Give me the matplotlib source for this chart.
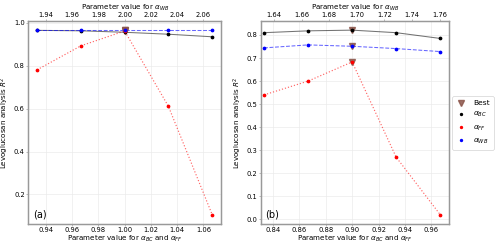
import numpy as np
import matplotlib
matplotlib.use('Agg')
import matplotlib.pyplot as plt
from matplotlib.lines import Line2D

# panel (a)
xa = [0.9333, 0.9667, 1.0, 1.0333, 1.0667]
xa_wb = [1.9333, 1.9667, 2.0, 2.0333, 2.0667]
bc_a = [0.965, 0.963, 0.956, 0.947, 0.935]
ff_a = [0.781, 0.893, 0.962, 0.611, 0.105]
wb_a = [0.966, 0.966, 0.966, 0.966, 0.966]
best_a_x = 1.0
best_a = [0.965, 0.962, 0.966]

# panel (b)
xb = [0.8333, 0.8667, 0.9, 0.9333, 0.9667]
xb_wb = [1.6333, 1.6667, 1.7, 1.7333, 1.7667]
bc_b = [0.810, 0.818, 0.821, 0.810, 0.785]
ff_b = [0.540, 0.600, 0.683, 0.270, 0.020]
wb_b = [0.744, 0.757, 0.751, 0.741, 0.728]
best_b_x = 0.9
best_b = [0.821, 0.683, 0.751]

ticks_a = [0.94, 0.96, 0.98, 1.00, 1.02, 1.04, 1.06]
ticks_a_top = [1.94, 1.96, 1.98, 2.00, 2.02, 2.04, 2.06]
ticks_b = [0.84, 0.86, 0.88, 0.90, 0.92, 0.94, 0.96]
ticks_b_top = [1.64, 1.66, 1.68, 1.70, 1.72, 1.74, 1.76]

fs = 4.9
lfs = 5.1
plt.rcParams['font.family'] = 'DejaVu Sans'
plt.rcParams['mathtext.fontset'] = 'dejavusans'

fig = plt.figure(figsize=(5, 2.46), dpi=100)
ax1 = fig.add_axes([0.0566, 0.0894, 0.3854, 0.8256])
ax2 = fig.add_axes([0.5214, 0.0894, 0.3766, 0.8256])

best_col = '#8c564b'


def draw(ax, x, bc, ff, wb, bx, best, ticks, tticks, tlim, label):
    ax.plot(x, bc, '-', color='black', alpha=0.55, lw=0.75, zorder=2)
    ax.plot(x, ff, ':', color='red', alpha=0.6, lw=0.85, zorder=2)
    ax.plot(x, wb, '--', color='blue', alpha=0.6, lw=0.75, zorder=2)
    ax.plot(x, bc, 'o', color='black', ms=1.7, zorder=3)
    ax.plot(x, ff, 'o', color='red', ms=1.7, zorder=3)
    ax.plot(x, wb, 'o', color='blue', ms=1.7, zorder=3)
    ax.plot([bx] * len(best), best, 'v', color=best_col, alpha=0.85, ms=4.2, zorder=2.5)
    ax.set_xticks(ticks)
    ax.set_xticklabels(['%.2f' % t for t in ticks])
    ax.grid(True, color='#ebebeb', lw=0.5)
    ax.set_axisbelow(True)
    ax.tick_params(labelsize=fs, length=1.5, width=0.4, color='#888888', pad=1.0)
    ax.set_xlabel(r'Parameter value for $\alpha_{BC}$ and $\alpha_{FF}$', fontsize=lfs, labelpad=0.2)
    ax.set_ylabel(r'Levoglucosan analysis $R^2$', fontsize=lfs, labelpad=2)
    for s in ax.spines.values():
        s.set_color('#999999')
        s.set_linewidth(0.9)
    ax.text(0.025, 0.022, label, transform=ax.transAxes, fontsize=7.0, ha='left', va='bottom')
    top = ax.twiny()
    if tlim is None:
        lo, hi = ax.get_xlim()
        top.set_xlim(lo + 1.0, hi + 1.0)
    else:
        top.set_xlim(tlim)
    top.set_xticks(tticks)
    top.set_xticklabels(['%.2f' % t for t in tticks])
    top.tick_params(labelsize=fs, length=1.5, width=0.4, color='#888888', pad=0.4)
    top.set_xlabel(r'Parameter value for $\alpha_{WB}$', fontsize=lfs, labelpad=2.0)
    for s in top.spines.values():
        s.set_color('#999999')
        s.set_linewidth(0.9)


draw(ax1, xa, bc_a, ff_a, wb_a, best_a_x, best_a, ticks_a, ticks_a_top, None, '(a)')
ax2.set_xlim(0.8308, 0.9733)
draw(ax2, xb, bc_b, ff_b, wb_b, best_b_x, best_b, ticks_b, ticks_b_top, (1.6304, 1.7667), '(b)')
ax2.set_yticks([0.0, 0.1, 0.2, 0.3, 0.4, 0.5, 0.6, 0.7, 0.8])

handles = [
    Line2D([], [], marker='v', color=best_col, alpha=0.85, ls='none', ms=4.2),
    Line2D([], [], marker='o', color='black', ls='none', ms=1.4),
    Line2D([], [], marker='o', color='red', ls='none', ms=1.4),
    Line2D([], [], marker='o', color='blue', ls='none', ms=1.4),
]
labels = ['Best', r'$\alpha_{BC}$', r'$\alpha_{FF}$', r'$\alpha_{WB}$']
leg = fig.legend(handles, labels, loc='center left', bbox_to_anchor=(0.9, 0.5),
                 fontsize=lfs + 0.3, frameon=True, handlelength=1.4, borderpad=0.5,
                 labelspacing=0.55, handletextpad=0.9, borderaxespad=0.3)
leg.get_frame().set_linewidth(0.4)
leg.get_frame().set_edgecolor('#bbbbbb')

fig.savefig('out.png', dpi=100)
